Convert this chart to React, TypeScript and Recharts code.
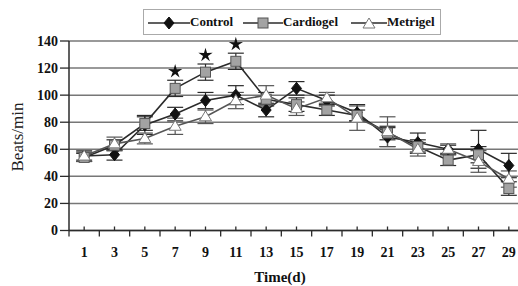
import { LineChart, Line, XAxis, YAxis, CartesianGrid, ErrorBar, LabelList, Label } from "recharts";

const days = [1, 3, 5, 7, 9, 11, 13, 15, 17, 19, 21, 23, 25, 27, 29];
const control = [55, 56, 78, 86, 96, 100, 89, 105, 96, 87, 69, 65, 60, 60, 48];
const controlErr = [3, 4, 7, 5, 6, 7, 5, 5, 4, 6, 7, 7, 3, 14, 9];
const cardiogel = [54, 63, 79, 105, 117, 125, 97, 93, 89, 85, 72, 62, 52, 56, 31];
const cardiogelErr = [3, 4, 5, 6, 6, 6, 5, 5, 4, 4, 5, 5, 4, 6, 5];
const metrigel = [55, 64, 68, 77, 84, 96, 100, 90, 98, 83, 73, 60, 60, 51, 38];
const metrigelErr = [4, 5, 4, 6, 5, 6, 7, 5, 4, 9, 11, 5, 4, 8, 6];
const significant = [false, false, false, true, true, true, false, false, false, false, false, false, false, false, false];
const yTicks = [0, 20, 40, 60, 80, 100, 120, 140];
const xTicks = Array.from({ length: 31 }, (_, i) => i);

const data = days.map((day, i) => ({
  day,
  control: control[i],
  controlErr: controlErr[i],
  cardiogel: cardiogel[i],
  cardiogelErr: cardiogelErr[i],
  metrigel: metrigel[i],
  metrigelErr: metrigelErr[i],
  star: significant[i] ? "*" : "",
}));

const FONT = "Liberation Serif, DejaVu Serif, serif";
const INK = "#2b2b2b";

function Diamond({ cx, cy }: any) {
  if (cx == null || cy == null) return null;
  return <polygon points={`${cx},${cy - 6} ${cx + 5},${cy} ${cx},${cy + 6} ${cx - 5},${cy}`} fill="#111" stroke="#111" />;
}

function Square({ cx, cy }: any) {
  if (cx == null || cy == null) return null;
  return <rect x={cx - 5} y={cy - 5} width={10} height={10} fill="#a3a3a3" stroke="#555" strokeWidth={1} />;
}

function Triangle({ cx, cy }: any) {
  if (cx == null || cy == null) return null;
  return <polygon points={`${cx},${cy - 6} ${cx + 6},${cy + 4} ${cx - 6},${cy + 4}`} fill="#fff" stroke="#777" strokeWidth={1} />;
}

function XTick({ x, y, payload }: any) {
  const v = payload.value;
  if (v % 2 === 0) {
    return <line x1={x} x2={x} y1={y} y2={y + 6} stroke={INK} strokeWidth={1.3} />;
  }
  return (
    <g>
      <line x1={x} x2={x} y1={y} y2={y - 4} stroke={INK} strokeWidth={1.3} />
      <text x={x} y={y + 26} textAnchor="middle" fontFamily={FONT} fontWeight="bold" fontSize={14} fill="#111">
        {v}
      </text>
    </g>
  );
}

// five-pointed star drawn above the significant Cardiogel points
function Star({ x, y, value }: any) {
  if (!value) return null;
  const cy = y - 17;
  const pts: string[] = [];
  for (let k = 0; k < 10; k++) {
    const r = k % 2 === 0 ? 7.5 : 2.6;
    const a = -Math.PI / 2 + (k * Math.PI) / 5;
    pts.push(`${x + r * Math.cos(a)},${cy + r * Math.sin(a)}`);
  }
  return <polygon points={pts.join(" ")} fill="#111" />;
}

function LegendIcon({ kind, width }: { kind: string; width: number }) {
  const c = width / 2;
  return (
    <svg width={width} height={14} style={{ verticalAlign: "middle" }}>
      <line x1={0} x2={width} y1={7} y2={7} stroke={INK} strokeWidth={1.3} />
      {kind === "d" && <Diamond cx={c} cy={7} />}
      {kind === "s" && <Square cx={c} cy={7} />}
      {kind === "t" && <Triangle cx={c} cy={8} />}
    </svg>
  );
}

function ChartLegend() {
  const items = [
    { kind: "d", name: "Control", w: 42, gap: 0 },
    { kind: "s", name: "Cardiogel", w: 40, gap: 10 },
    { kind: "t", name: "Metrigel", w: 36, gap: 13 },
  ];
  return (
    <div
      style={{
        position: "absolute",
        left: 143,
        top: 9,
        width: 292,
        height: 24,
        paddingLeft: 4,
        border: "1px solid #aaa",
        display: "flex",
        alignItems: "center",
        fontFamily: FONT,
        fontWeight: "bold",
        fontSize: 13,
        color: "#111",
        background: "#fff",
      }}
    >
      {items.map((it) => (
        <span key={it.name} style={{ whiteSpace: "nowrap", marginLeft: it.gap }}>
          <LegendIcon kind={it.kind} width={it.w} />
          {it.name}
        </span>
      ))}
    </div>
  );
}

export default function App() {
  return (
    <div style={{ position: "fixed", left: 0, top: 0, width: 518, height: 286, overflow: "hidden", background: "#fff" }}>
      <LineChart width={535} height={286} data={data} margin={{ top: 41, right: 11, left: 0, bottom: 0 }}>
        <CartesianGrid vertical={false} stroke="#777" strokeWidth={1.5} />
        <XAxis
          dataKey="day"
          type="number"
          domain={[0, 30]}
          ticks={xTicks}
          interval={0}
          height={55.5}
          tickSize={0}
          tickMargin={0}
          tick={<XTick />}
          axisLine={{ stroke: INK, strokeWidth: 1.5 }}
        >
          <Label
            content={() => (
              <text x={280} y={282} textAnchor="middle" fontFamily={FONT} fontWeight="bold" fontSize={15} fill="#111">
                Time(d)
              </text>
            )}
          />
        </XAxis>
        <YAxis
          domain={[0, 140]}
          ticks={yTicks}
          width={69}
          tickSize={9}
          tickMargin={2}
          axisLine={{ stroke: INK, strokeWidth: 1.5 }}
          tickLine={{ stroke: INK, strokeWidth: 1.3 }}
          tick={{ fontFamily: FONT, fontWeight: "bold", fontSize: 14, fill: "#111" }}
        >
          <Label
            content={() => (
              <text x={23} y={137} transform="rotate(-90 23 137)" textAnchor="middle" fontFamily={FONT} fontSize={17} fill="#222">
                Beats/min
              </text>
            )}
          />
        </YAxis>
        <Line dataKey="control" stroke={INK} strokeWidth={1.6} dot={<Diamond />} isAnimationActive={false}>
          <ErrorBar dataKey="controlErr" width={8} stroke={INK} strokeWidth={1.2} direction="y" isAnimationActive={false} />
        </Line>
        <Line dataKey="cardiogel" stroke={INK} strokeWidth={1.6} dot={<Square />} isAnimationActive={false}>
          <ErrorBar dataKey="cardiogelErr" width={8} stroke={INK} strokeWidth={1.2} direction="y" isAnimationActive={false} />
          <LabelList dataKey="star" content={<Star />} />
        </Line>
        <Line dataKey="metrigel" stroke="#555" strokeWidth={1.6} dot={<Triangle />} isAnimationActive={false}>
          <ErrorBar dataKey="metrigelErr" width={8} stroke="#555" strokeWidth={1.2} direction="y" isAnimationActive={false} />
        </Line>
      </LineChart>
      <ChartLegend />
    </div>
  );
}
